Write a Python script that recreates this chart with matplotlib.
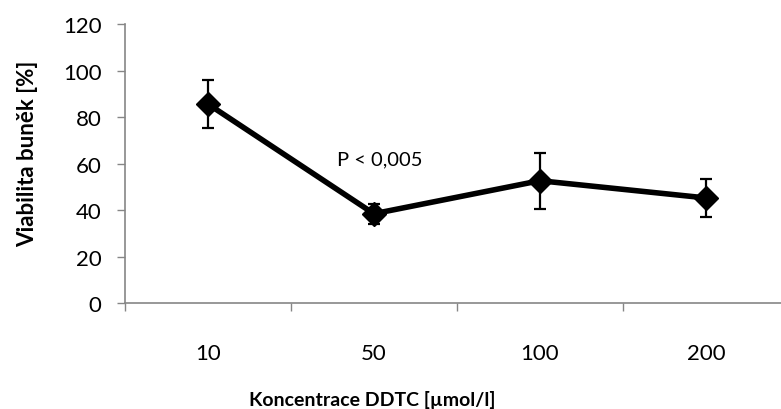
import matplotlib
matplotlib.use("Agg")
import matplotlib.pyplot as plt
import numpy as np

# data
koncentrace = ["10", "50", "100", "200"]
viabilita = [85.6, 38.4, 52.6, 45.2]
chyba = [10.2, 4.4, 12.0, 8.0]
y_ticks = [0, 20, 40, 60, 80, 100, 120]

plt.rcParams['font.family'] = ['Lato', 'DejaVu Sans']

fig = plt.figure(figsize=(7.81, 4.10), dpi=100)
ax = fig.add_axes([0.160, 0.2585, 0.850, 0.6805])

x = np.arange(len(koncentrace))
ax.errorbar(x, viabilita, yerr=chyba, color="black", lw=4,
            marker="D", markersize=12, elinewidth=1.6, capsize=4,
            capthick=1.6, clip_on=False)

ax.text(0.78, 62, "P < 0,005", fontsize=14.5, va="center", ha="left")

ax.set_xlim(-0.5, len(koncentrace) - 0.5)
ax.set_ylim(0, 120)
ax.set_yticks(y_ticks)
ax.set_xticks(x)
ax.set_xticklabels(koncentrace)
ax.set_xticks(np.arange(-0.5, len(koncentrace)), minor=True)
ax.tick_params(axis="x", which="major", length=0, pad=29, labelsize=16)
ax.tick_params(axis="x", which="minor", length=6, color="#868686", width=1)
ax.tick_params(axis="y", length=6, color="#868686", width=1, labelsize=16, pad=11)

for s in ["top", "right"]:
    ax.spines[s].set_visible(False)
for s in ["left", "bottom"]:
    ax.spines[s].set_color("#868686")
    ax.spines[s].set_linewidth(1.2)

ax.set_ylabel("Viabilita buněk [%]", fontsize=16, fontweight="bold")
ax.set_xlabel("Koncentrace DDTC [µmol/l]", fontsize=14, fontweight="bold")
ax.yaxis.set_label_coords(-0.146, 0.54)
ax.xaxis.set_label_coords(0.372, -0.344)
ax.xaxis.label.set_va("center")
ax.yaxis.label.set_va("center")

fig.savefig("out.png", dpi=100)
